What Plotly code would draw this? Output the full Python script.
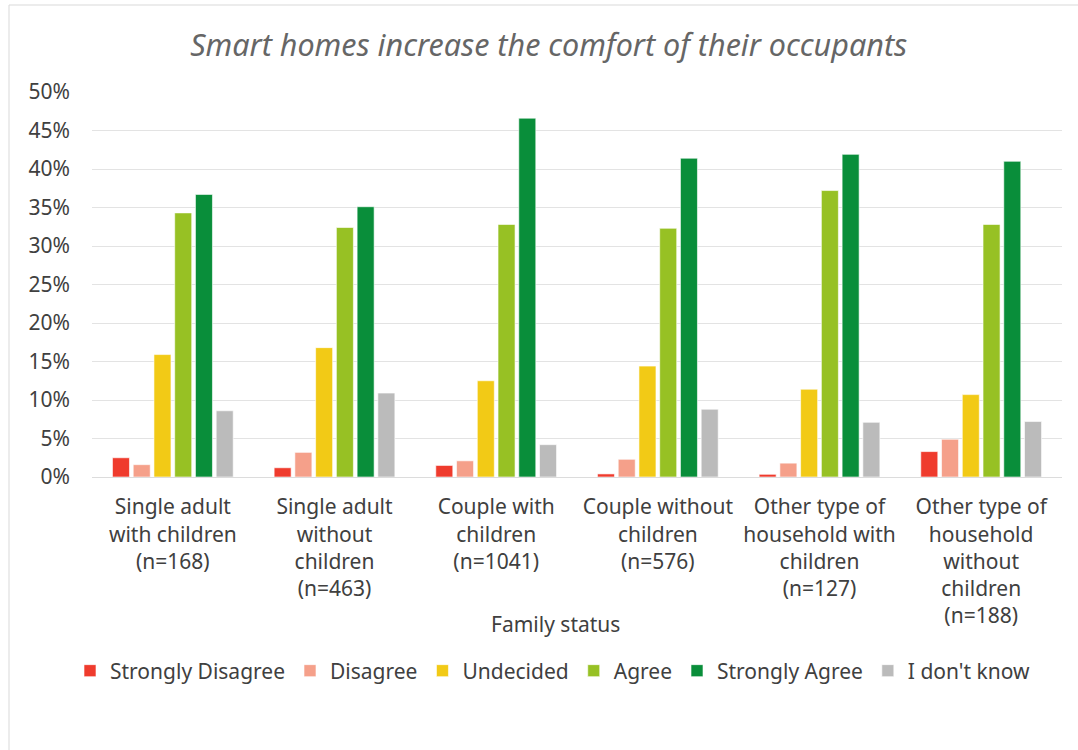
import plotly.graph_objects as go

categories = [
    "Single adult<br>with children<br>(n=168)",
    "Single adult<br>without<br>children<br>(n=463)",
    "Couple with<br>children<br>(n=1041)",
    "Couple without<br>children<br>(n=576)",
    "Other type of<br>household with<br>children<br>(n=127)",
    "Other type of<br>household<br>without<br>children<br>(n=188)",
]
series_names = ["Strongly Disagree", "Disagree", "Undecided", "Agree", "Strongly Agree", "I don't know"]
strongly_disagree = [2.5, 1.2, 1.5, 0.4, 0.35, 3.3]
disagree = [1.6, 3.2, 2.1, 2.3, 1.8, 4.9]
undecided = [15.9, 16.8, 12.5, 14.4, 11.4, 10.7]
agree = [34.3, 32.4, 32.8, 32.3, 37.2, 32.8]
strongly_agree = [36.7, 35.1, 46.6, 41.4, 41.9, 41.0]
dont_know = [8.6, 10.9, 4.2, 8.8, 7.1, 7.2]
colors = ["#EF3B2D", "#F5A08A", "#F2CA16", "#97C124", "#098E3A", "#BBBBBB"]

values = [strongly_disagree, disagree, undecided, agree, strongly_agree, dont_know]

FONT = "Noto Sans"
W, H = 1078, 750
L, R, T, B = 92, 16, 92, 273
PW = W - L - R
PH = H - T - B

def px_x(px):
    return (px - L) / PW

def px_y(py):
    return (H - B - py) / PH

fig = go.Figure()
for name, vals, col in zip(series_names, values, colors):
    fig.add_trace(go.Bar(
        name=name, x=categories, y=vals,
        marker=dict(color=col, line=dict(color="rgba(255,255,255,0.6)", width=1)),
    ))

fig.update_layout(
    width=W, height=H,
    margin=dict(l=L, r=R, t=T, b=B),
    paper_bgcolor="white", plot_bgcolor="white",
    barmode="group", bargap=0.23, bargroupgap=0.18,
    font=dict(family=FONT, color="#404040", size=21),
    title=dict(text="<i>Smart homes increase the comfort of their occupants</i>",
               x=0.509, xanchor="center", y=1 - 45 / H, yanchor="middle",
               font=dict(family=FONT, size=30.5, color="#666666")),
    showlegend=True,
    legend=dict(orientation="h", x=px_x(553), xanchor="center", y=px_y(671), yanchor="middle",
                font=dict(family=FONT, size=21, color="#404040"),
                itemwidth=30, traceorder="normal"),
    yaxis=dict(range=[0, 50], dtick=5, ticksuffix="%", showgrid=True, gridcolor="#E3E3E3",
               gridwidth=1, zeroline=False, ticklabelstandoff=21,
               tickfont=dict(family=FONT, size=21, color="#404040"), fixedrange=True),
    xaxis=dict(showline=True, linecolor="#DCDCDC", linewidth=1, ticks="",
               tickfont=dict(family=FONT, size=21, color="#404040"), ticklabelstandoff=11),
    annotations=[dict(text="Family status", xref="paper", yref="paper", x=px_x(555), y=px_y(624),
                      xanchor="center", yanchor="middle", showarrow=False,
                      font=dict(family=FONT, size=21, color="#404040"))],
    shapes=[dict(type="rect", xref="paper", yref="paper",
                 x0=px_x(9), x1=px_x(1090), y0=px_y(770), y1=px_y(5),
                 line=dict(color="#D9D9D9", width=1), layer="below")],
)

fig.write_html("out.html", post_script="document.body.style.margin='0';",
               config={"displayModeBar": False})
